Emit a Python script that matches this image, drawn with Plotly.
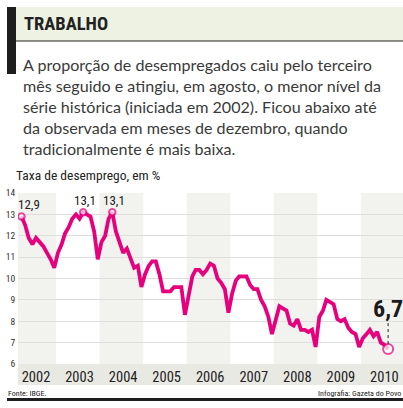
import pandas as pd
import plotly.graph_objects as go

# Taxa de desemprego (PME/IBGE), mar/2002 a ago/2010
start_month = "2002-03-01"
taxa = [
    12.9, 12.5, 11.9, 11.6, 11.9, 11.7, 11.5, 11.2, 10.9, 10.5,              # 2002
    11.2, 11.6, 12.1, 12.4, 12.8, 13.0, 12.8, 13.1, 13.0, 12.9, 12.2, 10.9,  # 2003
    11.7, 12.0, 12.8, 13.1, 12.2, 11.7, 11.2, 11.4, 10.9, 10.5, 10.6, 9.6,   # 2004
    10.2, 10.6, 10.8, 10.8, 10.2, 9.4, 9.4, 9.4, 9.6, 9.6, 9.6, 8.3,         # 2005
    9.2, 10.1, 10.4, 10.4, 10.2, 10.4, 10.7, 10.6, 10.0, 9.8, 9.5, 8.4,      # 2006
    9.3, 9.9, 10.1, 10.1, 10.1, 9.7, 9.5, 9.5, 9.0, 8.7, 8.2, 7.4,           # 2007
    8.0, 8.7, 8.6, 8.5, 7.9, 7.8, 8.1, 7.6, 7.6, 7.5, 7.6, 6.8,              # 2008
    8.2, 8.5, 9.0, 8.9, 8.8, 8.1, 8.0, 8.1, 7.7, 7.5, 7.4, 6.8,              # 2009
    7.2, 7.4, 7.6, 7.3, 7.5, 7.0, 6.9, 6.7,                                  # 2010
]
anos = [2002, 2003, 2004, 2005, 2006, 2007, 2008, 2009, 2010]
destaques = [0, 17, 25, len(taxa) - 1]   # pontos marcados
y_ticks = [6, 7, 8, 9, 10, 11, 12, 13, 14]

meses = pd.date_range(start_month, periods=len(taxa), freq="MS")

W, H = 403, 408
L, R, T, B = 18, 0, 193, 44
PW, PH = W - L - R, H - T - B

def px(x):
    return (x - L) / PW

def py(y):
    return (H - B - y) / PH

PINK = "#e6007e"
NARROW = "Liberation Sans Narrow, Roboto Condensed, Roboto, sans-serif"
TEXT = "Lato, Roboto, sans-serif"

fig = go.Figure()
fig.add_trace(go.Scatter(x=meses, y=taxa, mode="lines",
                         line=dict(color=PINK, width=3.8), hoverinfo="skip"))
fig.add_trace(go.Scatter(
    x=[meses[i] for i in destaques], y=[taxa[i] for i in destaques],
    mode="markers",
    marker=dict(size=[6.5, 6.5, 6.5, 10], color="white", line=dict(color=PINK, width=2)),
    hoverinfo="skip"))

x_left = pd.Timestamp("2002-01-31")
x_right = pd.Timestamp("2010-12-04")

shapes = []
# faixas alternadas por ano
for k, ano in enumerate(anos):
    x0 = max(pd.Timestamp(f"{ano - 1}-12-16"), x_left)
    x1 = min(pd.Timestamp(f"{ano}-12-16"), x_right)
    if k % 2 == 0:
        shapes.append(dict(type="rect", xref="x", yref="paper", x0=x0, x1=x1, y0=0, y1=1,
                           fillcolor="#f2f2ee", line_width=0, layer="below"))
# faixa dos anos
shapes.append(dict(type="rect", xref="paper", yref="paper", x0=px(18), x1=1,
                   y0=py(385), y1=0, fillcolor="#e9e9e4", line_width=0, layer="below"))
# cabeçalho
shapes.append(dict(type="rect", xref="paper", yref="paper", x0=px(16), x1=1,
                   y0=py(41), y1=py(7), fillcolor="#eef2e3", line_width=0))
shapes.append(dict(type="line", xref="paper", yref="paper", x0=px(16), x1=1,
                   y0=py(41), y1=py(41), line=dict(color="#222", width=1.2)))
shapes.append(dict(type="rect", xref="paper", yref="paper", x0=px(7), x1=px(16),
                   y0=py(74), y1=py(7), fillcolor="#1e1e1e", line_width=0))
# barra do rodapé
shapes.append(dict(type="rect", xref="paper", yref="paper", x0=px(7), x1=1,
                   y0=py(401), y1=py(398), fillcolor="#1e1e1e", line_width=0))
# linha pontilhada do último valor
shapes.append(dict(type="line", xref="x", yref="y", ysizemode="pixel",
                   yanchor=taxa[-1], x0=meses[-1], x1=meses[-1], y0=5, y1=28,
                   line=dict(color="#222", width=1, dash="dot")))

ann = []
ann.append(dict(x=px(22), y=py(24), xref="paper", yref="paper", text="<b>TRABALHO</b>",
                showarrow=False, xanchor="left", yanchor="middle",
                font=dict(family=NARROW, size=18.5, color="#222")))
ann.append(dict(x=px(21), y=py(53), xref="paper", yref="paper",
                text="A proporção de desempregados caiu pelo terceiro<br>"
                     "mês seguido e atingiu, em agosto, o menor nível da<br>"
                     "série histórica (iniciada em 2002). Ficou abaixo até<br>"
                     "da observada em meses de dezembro, quando<br>"
                     "tradicionalmente é mais baixa.",
                showarrow=False, xanchor="left", yanchor="top", align="left",
                font=dict(family=TEXT, size=16.1, color="#3a3a3a")))
ann.append(dict(x=px(14), y=py(175), xref="paper", yref="paper",
                text="Taxa de desemprego, em %", showarrow=False,
                xanchor="left", yanchor="middle",
                font=dict(family=NARROW, size=13.5, color="#222")))
for i, dx in zip(destaques[:3], [8, 2, 2]):
    ann.append(dict(x=meses[i], y=taxa[i], text=f"{taxa[i]:.1f}".replace(".", ","),
                    showarrow=False, xshift=dx, yshift=12,
                    font=dict(family=NARROW, size=13, color="#222")))
ann.append(dict(x=meses[-1], y=taxa[-1], text="<b>" + f"{taxa[-1]:.1f}".replace(".", ",") + "</b>",
                showarrow=False, yshift=40,
                font=dict(family=NARROW, size=24, color="#1a1a1a")))
ann.append(dict(x=px(6), y=py(393), xref="paper", yref="paper", text="Fonte: IBGE.",
                showarrow=False, xanchor="left", yanchor="middle",
                font=dict(family=NARROW, size=8, color="#222")))
ann.append(dict(x=1, y=py(393), xref="paper", yref="paper", text="Infografia: Gazeta do Povo",
                showarrow=False, xanchor="right", yanchor="middle",
                font=dict(family=NARROW, size=8, color="#222")))

fig.update_layout(
    width=W, height=H,
    margin=dict(l=L, r=R, t=T, b=B),
    paper_bgcolor="white", plot_bgcolor="white",
    showlegend=False,
    shapes=shapes, annotations=ann,
    xaxis=dict(range=[x_left, x_right], showgrid=False, zeroline=False,
               tickvals=[pd.Timestamp(f"{a}-07-01") for a in anos],
               ticktext=[str(a) for a in anos],
               ticks="outside", ticklen=0, ticklabelstandoff=0,
               tickfont=dict(family=NARROW, size=14.5, color="#222")),
    yaxis=dict(range=[6, 14], tickvals=y_ticks, showgrid=True,
               gridcolor="#dedede", gridwidth=1, zeroline=False,
               ticks="outside", ticklen=0,
               tickfont=dict(family=NARROW, size=9.5, color="#333")),
)

# sem margem do body, para a figura ocupar a janela toda
fig.write_html("out.html", config={"displayModeBar": False},
               post_script="document.body.style.margin='0';")
